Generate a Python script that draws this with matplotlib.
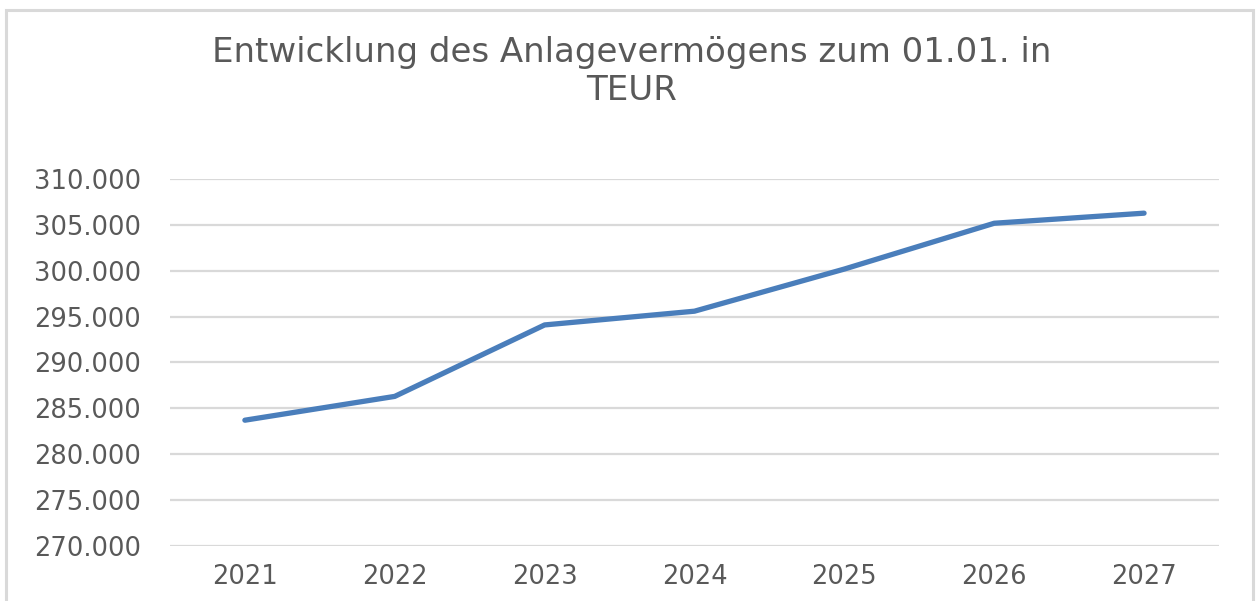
import matplotlib
matplotlib.use("Agg")
import matplotlib.pyplot as plt
from matplotlib.patches import Rectangle
from matplotlib.ticker import FuncFormatter

years = ["2021", "2022", "2023", "2024", "2025", "2026", "2027"]
anlagevermoegen = [283700, 286300, 294100, 295600, 300200, 305200, 306300]

TEXT = "#595959"
GRID = "#d9d9d9"
LINE = "#4a7ebb"

fig = plt.figure(figsize=(12.58, 6.01), dpi=100)
ax = fig.add_axes([0.1351, 0.092, 0.969 - 0.1351, 0.7017 - 0.092])

ax.plot(range(len(years)), anlagevermoegen, color=LINE, linewidth=3.8,
        solid_capstyle="round", solid_joinstyle="round", zorder=3)

ax.set_xlim(-0.5, len(years) - 0.5)
ax.set_ylim(270000, 310000)
ax.set_yticks(range(270000, 310001, 5000))
ax.yaxis.set_major_formatter(FuncFormatter(lambda v, _: f"{v / 1000:.3f}"))
ax.set_xticks(range(len(years)))
ax.set_xticklabels(years)

ax.grid(axis="y", color=GRID, linewidth=1.6)
ax.set_axisbelow(True)
for s in ax.spines.values():
    s.set_visible(False)
ax.tick_params(axis="both", length=0, labelsize=18.5, labelcolor=TEXT)
ax.tick_params(axis="y", pad=21)
ax.tick_params(axis="x", pad=13)

fig.text(0.502, 0.881, "Entwicklung des Anlagevermögens zum 01.01. in\nTEUR",
         ha="center", va="center", fontsize=24.5, color=TEXT, linespacing=1.16)

# chart frame
fig.patches.append(Rectangle((6 / 1258, -0.05), 1247 / 1258, 1.05 - 10 / 601,
                             transform=fig.transFigure, fill=False,
                             edgecolor=GRID, linewidth=2.2))

fig.savefig("out.png", dpi=100)
